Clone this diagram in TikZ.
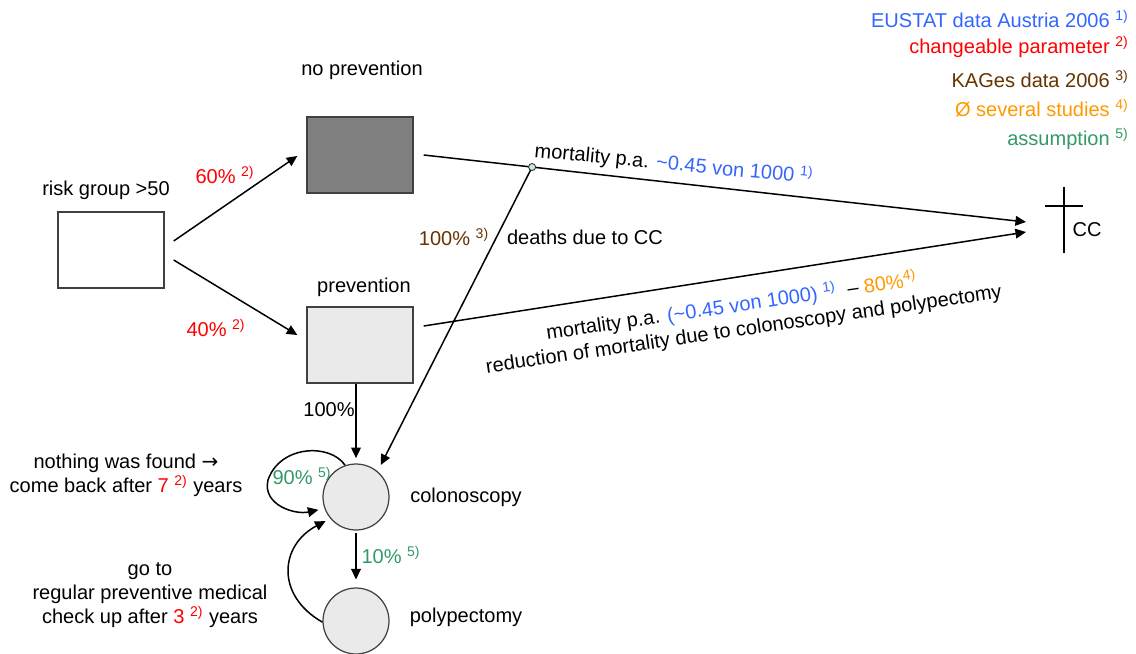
\documentclass[tikz,border=0pt]{standalone}
\usepackage{fontspec}
\setmainfont{Liberation Sans}
\newfontfamily\symfont{DejaVu Sans}
\usetikzlibrary{arrows.meta,positioning}

\definecolor{eustat}{HTML}{3366FF}
\definecolor{param}{HTML}{FF0000}
\definecolor{kages}{HTML}{663300}
\definecolor{studies}{HTML}{FF9900}
\definecolor{assume}{HTML}{339966}
\definecolor{lightfill}{HTML}{EAEAEA}
\definecolor{hitfill}{HTML}{CCE6E6}

\newcommand{\src}[1]{\textsuperscript{#1)}}

\tikzset{
  state/.style={rectangle,draw=black!75,line width=0.8pt,minimum width=2.12cm,minimum height=1.52cm,inner sep=0pt},
  visit/.style={circle,draw=black!75,line width=0.7pt,fill=lightfill,minimum size=1.32cm,inner sep=0pt},
  hitdot/.style={circle,draw=black!80,line width=0.5pt,fill=hitfill,minimum size=4pt,inner sep=0pt},
  flow/.style={line width=0.85pt,-{Triangle[length=6pt,width=5.5pt]}},
  txt/.style={inner sep=0pt,font=\fontsize{11.4}{13.8}\selectfont},
}

\begin{document}
\begin{tikzpicture}[x=0.02cm,y=-0.02cm]
  \useasboundingbox (0,0) rectangle (1136,653);

  % states
  \node[state,fill=white] (risk) at (111,250) {};
  \node[state,fill=black!50] (noprev) at (360,155) {};
  \node[state,fill=lightfill] (prev) at (360,345) {};
  \node[visit] (colo) at (356,497) {};
  \node[visit] (poly) at (356,621) {};

  \node[txt] (lrisk) at (106,190) {risk group >50};
  \node[txt] (lnoprev) at (362,70) {no prevention};
  \node[txt] (lprev) at (364,287) {prevention};
  \node[txt] (lcolo) at (466,497) {colonoscopy};
  \node[txt] (lpoly) at (466,617) {polypectomy};

  % death by CC
  \coordinate (dead) at (1026,227);
  \draw[line width=0.85pt] (1064,187) -- (1064,253) (1045,206) -- (1083,206);
  \node[txt] (cc) at (1087,230) {CC};

  % sources
  \node[txt,anchor=east,text=eustat] (s1) at (1129,19) {EUSTAT data Austria 2006 \src{1}};
  \node[txt,anchor=east,text=param] (s2) at (1129,47) {changeable parameter \src{2}};
  \node[txt,anchor=east,text=kages] (s3) at (1129,79) {KAGes data 2006 \src{3}};
  \node[txt,anchor=east,text=studies] (s4) at (1129,108) {Ø several studies \src{4}};
  \node[txt,anchor=east,text=assume] (s5) at (1129,139) {assumption \src{5}};

  % transitions
  \draw[flow] ([shift={(9,-9)}]risk.east) -- ([shift={(-9,1)}]noprev.west);
  \draw[flow] ([shift={(9,10)}]risk.east) -- ([shift={(-9,-10)}]prev.west);
  \node[txt,text=param] (p60) at (225,175) {60\% \src{2}};
  \node[txt,text=param] (p40) at (216,328) {40\% \src{2}};

  \draw[flow] ([shift={(10,0)}]noprev.east) -- coordinate[pos=0.18] (hit) ([shift={(0,-5)}]dead);
  \draw[flow] ([shift={(10,-19)}]prev.east) -- ([shift={(0,5)}]dead);
  \draw[flow,shorten >=4pt] (hit) -- (colo.50);
  \node[hitdot] (hitmark) at (hit) {};

  \node[txt,rotate=-5.5] (mort1) at (674,164) {mortality p.a. \textcolor{eustat}{\textasciitilde0.45 von 1000 \src{1}}};
  \node[txt,rotate=8.3,align=center] (mort2) at (742,317) {mortality p.a. \textcolor{eustat}{(\textasciitilde0.45 von 1000) \src{1}} \ -- \textcolor{studies}{80\%\src{4}}\hspace*{10pt}\\reduction of mortality due to colonoscopy and polypectomy};
  \node[txt,text=kages] (p100d) at (454,237) {100\% \src{3}};
  \node[txt] (ldeath) at (585,237) {deaths due to CC};

  \draw[flow,shorten >=3pt] (prev.south -| colo) -- (colo.north);
  \node[txt] (p100) at (329,410) {100\%};

  \draw[flow,shorten <=1.5pt,shorten >=4.5pt] (colo) -- (poly);
  \node[txt,text=assume] (p10) at (391,555) {10\% \src{5}};

  % back loops
  \draw[flow,shorten >=3.5pt] (colo.109) .. controls (330,443) and (280,445) .. (268,480)
    .. controls (262,505) and (295,515) .. (colo.200);
  \node[txt,text=assume] (p90) at (302,476) {90\% \src{5}};
  \draw[flow,shorten >=3pt] (poly.182) .. controls (275,595) and (280,545) .. (colo.220);

  \node[txt,align=center] (lfound) at (126,475) {nothing was found {\symfont →}\\come back after \textcolor{param}{7 \src{2}} years};
  \node[txt,align=center] (lcheck) at (150,595) {go to\\regular preventive medical\\check up after \textcolor{param}{3 \src{2}} years};
\end{tikzpicture}
\end{document}
